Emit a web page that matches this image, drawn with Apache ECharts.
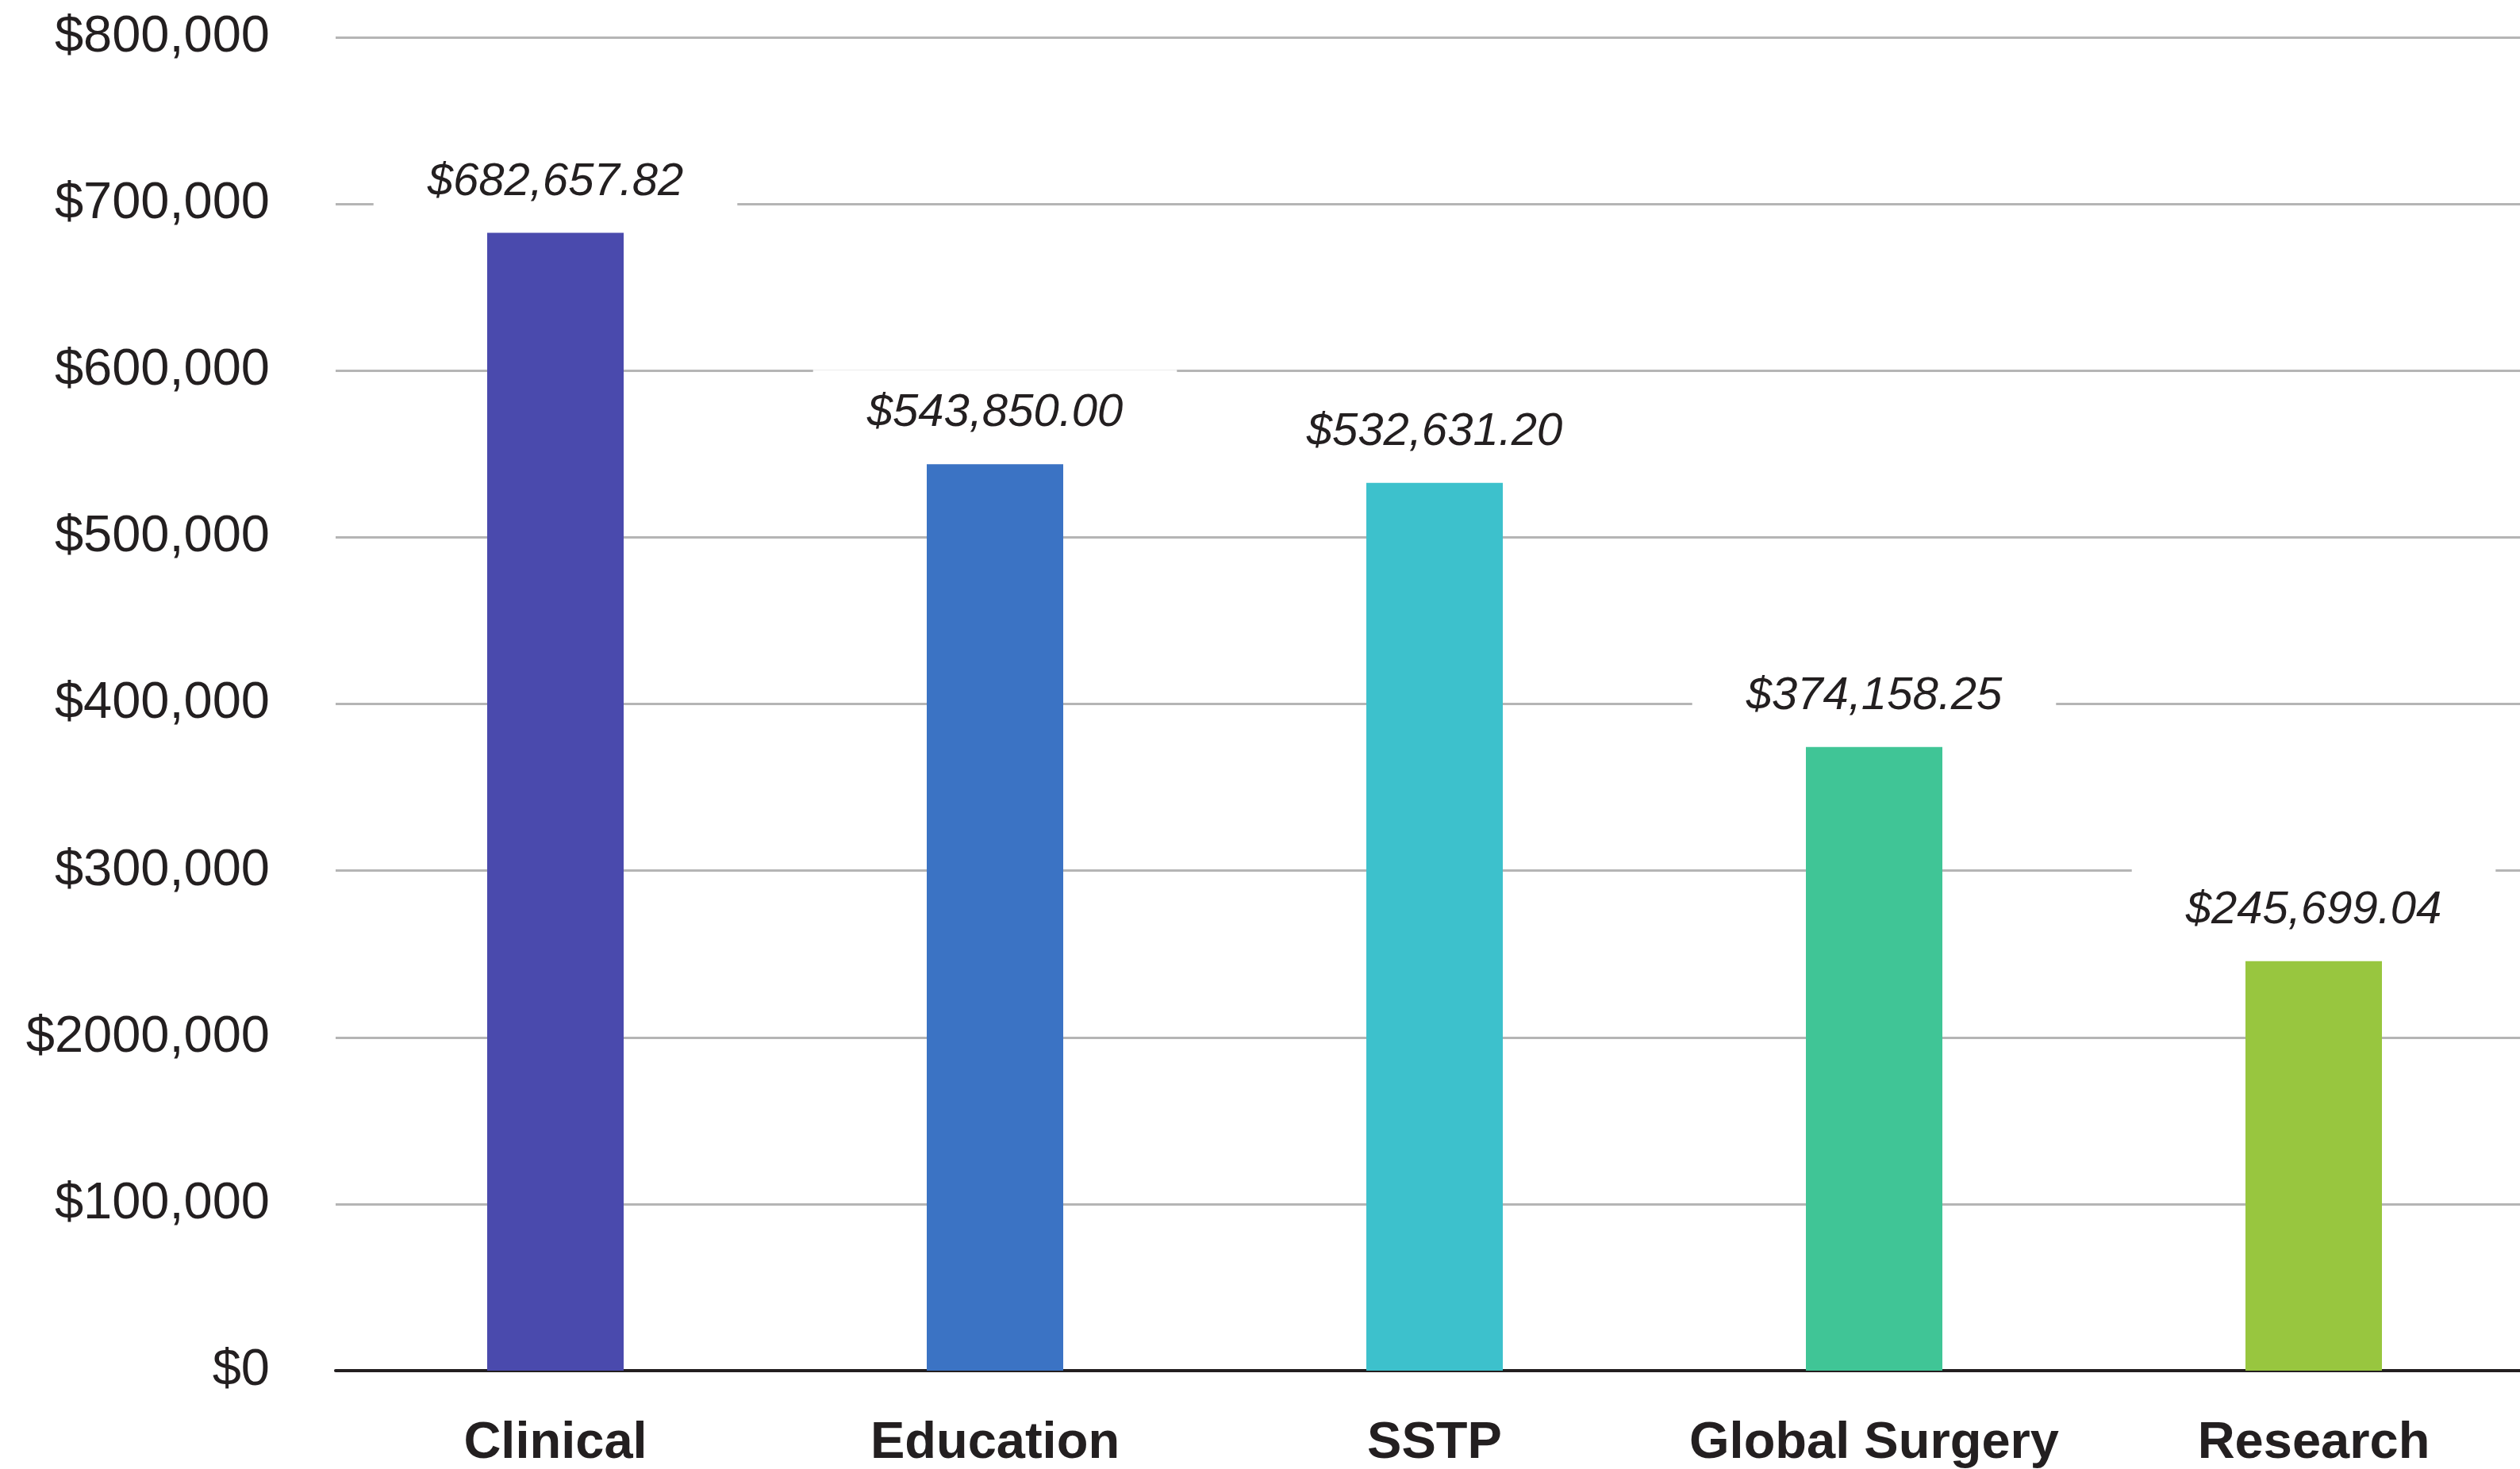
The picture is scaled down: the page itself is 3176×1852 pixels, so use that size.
<!DOCTYPE html>
<html>
<head>
<meta charset="utf-8">
<title>Funding by Program</title>
<script src="https://cdn.jsdelivr.net/npm/echarts@6/dist/echarts.min.js"></script>
<style>
  html, body { margin: 0; padding: 0; background: #ffffff; overflow: hidden; }
  #chart { width: 3176px; height: 1852px; }
</style>
</head>
<body>
<div id="chart"></div>
<script>
// Program areas and their totals (USD)
const categories = ['Clinical', 'Education', 'SSTP', 'Global Surgery', 'Research'];
const amounts = [682657.82, 543850.00, 532631.20, 374158.25, 245699.04];
const barColors = ['#4a4aad', '#3b73c4', '#3dc1cc', '#40c596', '#98c63f'];
// Y-axis tick labels, from $0 upward in steps of 100,000
const yTickLabels = ['$0', '$100,000', '$2000,000', '$300,000', '$400,000', '$500,000', '$600,000', '$700,000', '$800,000'];

const TEXT = '#231f20';
const FONT = '"Liberation Sans", Arial, Helvetica, sans-serif';

function money(v) {
  return '$' + v.toLocaleString('en-US', { minimumFractionDigits: 2, maximumFractionDigits: 2 });
}

const chart = echarts.init(document.getElementById('chart'), null, { renderer: 'canvas' });

chart.setOption({
  backgroundColor: '#ffffff',
  animation: false,
  // plot area runs slightly past the right edge of the canvas
  grid: { left: 423, width: 2770, top: 47, bottom: 124, containLabel: false, outerBoundsMode: 'none' },
  xAxis: {
    type: 'category',
    data: categories,
    axisLine: { show: true, lineStyle: { color: TEXT, width: 4 } },
    axisTick: { show: false },
    axisLabel: {
      interval: 0,
      margin: 60,
      color: TEXT,
      fontFamily: FONT,
      fontWeight: 'bold',
      fontSize: 65
    },
    splitLine: { show: false }
  },
  yAxis: {
    type: 'value',
    min: 0,
    max: 800000,
    interval: 100000,
    axisLine: { show: false },
    axisTick: { show: false },
    axisLabel: {
      margin: 83,
      color: TEXT,
      fontFamily: FONT,
      fontSize: 65,
      formatter: function (v) { return yTickLabels[Math.round(v / 100000)]; }
    },
    splitLine: { show: true, lineStyle: { color: '#b5b5b5', width: 3 } }
  },
  series: [{
    type: 'bar',
    barWidth: 172,
    data: amounts.map(function (v, i) {
      return { value: v, itemStyle: { color: barColors[i] } };
    }),
    label: {
      show: true,
      position: 'top',
      distance: 9,
      formatter: function (p) { return money(p.value); },
      color: TEXT,
      fontFamily: FONT,
      fontStyle: 'italic',
      fontSize: 58,
      lineHeight: 62,
      backgroundColor: '#ffffff',
      padding: [24, 68, 24, 68]
    }
  }]
});
</script>
</body>
</html>
